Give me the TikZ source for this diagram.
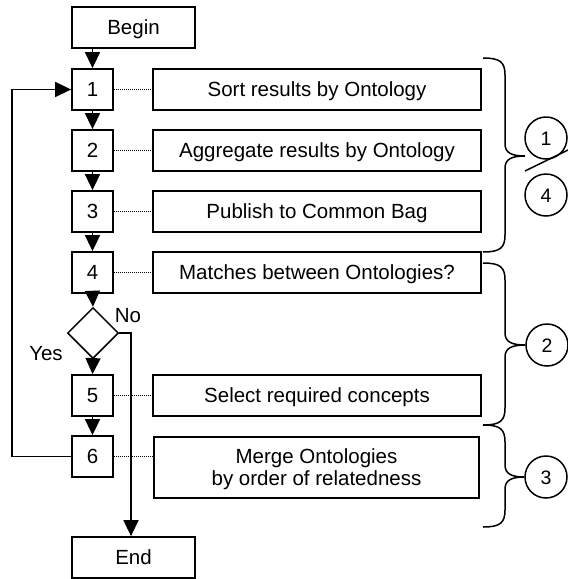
\documentclass[tikz,border=0pt]{standalone}
\usepackage{fontspec}
\setmainfont{Liberation Sans}
\usetikzlibrary{arrows.meta,shapes.geometric}

\begin{document}
\begin{tikzpicture}[x=1pt,y=-1pt,
  every node/.style={font=\fontsize{20.5}{22}\selectfont, inner sep=0pt, text height=14.7pt, text depth=0pt},
  numbox/.style={draw, line width=1.8pt, minimum width=41pt, minimum height=41pt},
  termbox/.style={draw, line width=1.8pt, minimum width=123pt, minimum height=41pt},
  taskbox/.style={draw, line width=1.8pt, minimum width=328pt, minimum height=41pt, align=center},
  decision/.style={draw, shape=diamond, line width=1.5pt, minimum width=51pt, minimum height=51pt},
  phase/.style={draw, circle, line width=1.5pt, minimum size=42pt, font=\fontsize{19.5}{22}\selectfont},
  flow/.style={-{Triangle[length=16pt,width=15pt]}, line width=1.6pt},
  link/.style={line width=0.9pt, dash pattern=on 1pt off 1pt},
  bracket/.style={line width=1.5pt}]

\useasboundingbox (0,0) rectangle (568,579);

% main column of steps
\node[termbox] (begin) at (133.5,27.5) {Begin};
\node[numbox] (s1) at (92.5,89.5) {1};
\node[numbox] (s2) at (92.5,150.5) {2};
\node[numbox] (s3) at (92.5,211.5) {3};
\node[numbox] (s4) at (92.5,272.5) {4};
\node[decision] (dia) at (93,333) {};
\node[numbox] (s5) at (92.5,395.5) {5};
\node[numbox] (s6) at (92.5,456.5) {6};
\node[termbox] (end) at (133.5,557.5) {End};

% task descriptions
\node[taskbox] (t1) at (317,89.5) {Sort results by Ontology};
\node[taskbox] (t2) at (317,150.5) {Aggregate results by Ontology};
\node[taskbox] (t3) at (317,211.5) {Publish to Common Bag};
\node[taskbox] (t4) at (317,272.5) {Matches between Ontologies?};
\node[taskbox] (t5) at (317,395.5) {Select required concepts};
\node[taskbox, minimum width=325pt, minimum height=61pt, text height=36.7pt] (t6) at (316.5,467.5) {Merge Ontologies\\by order of relatedness};

% branch labels
\node (no) at (128,315) {No};
\node (yes) at (46,353) {Yes};

% flow arrows
\draw[flow] (begin.south -| s1.north) -- (s1.north);
\draw[flow] (s1) -- (s2);
\draw[flow] (s2) -- (s3);
\draw[flow] (s3) -- (s4);
\draw[flow] (s4.south) -- (dia.north);
\draw[flow] (dia.south) -- (s5.north);
\draw[flow] (s5) -- (s6);

% loop back from step 6 to step 1
\coordinate (loopcorner) at (12,456.5);
\draw[flow] (s6.west) -- (loopcorner) |- (s1.west);

% "No" branch down to End
\coordinate (noturn) at (131,333);
\draw[flow] (dia.east) -- (noturn) -- (noturn |- end.north);

% dotted links between steps and descriptions
\draw[link] (s1.east) -- (t1.west);
\draw[link] (s2.east) -- (t2.west);
\draw[link] (s3.east) -- (t3.west);
\draw[link] (s4.east) -- (t4.west);
\draw[link] (s5.east) -- (t5.west);
\draw[link] (s6.east) -- (s6.east -| t6.west);

% phase circles
\node[phase] (p1) at (546,138) {1};
\node[phase] (p4) at (546,195) {4};
\node[phase] (p2) at (547,345) {2};
\node[phase] (p3) at (546,477) {3};
\coordinate (slashA) at (525,171);
\coordinate (slashB) at (568,150);
\draw[bracket] (slashA) -- (slashB);

% braces grouping the steps
\draw[bracket] (483,58) .. controls (500,58) and (505,62) .. (505,75) -- (505,144)
  .. controls (505,153) and (512,156) .. (525,156)
  .. controls (512,156) and (505,159) .. (505,168) -- (505,235)
  .. controls (505,248) and (500,252) .. (483,252);
\draw[bracket] (483,263) .. controls (500,263) and (505,267) .. (505,280) -- (505,333)
  .. controls (505,342) and (512,345) .. (p2.west)
  .. controls (512,345) and (505,348) .. (505,357) -- (505,408)
  .. controls (505,421) and (500,425) .. (483,425);
\draw[bracket] (483,425) .. controls (500,425) and (505,429) .. (505,442) -- (505,465)
  .. controls (505,474) and (512,477) .. (p3.west)
  .. controls (512,477) and (505,480) .. (505,489) -- (505,510)
  .. controls (505,523) and (500,527) .. (483,527);

\end{tikzpicture}
\end{document}
